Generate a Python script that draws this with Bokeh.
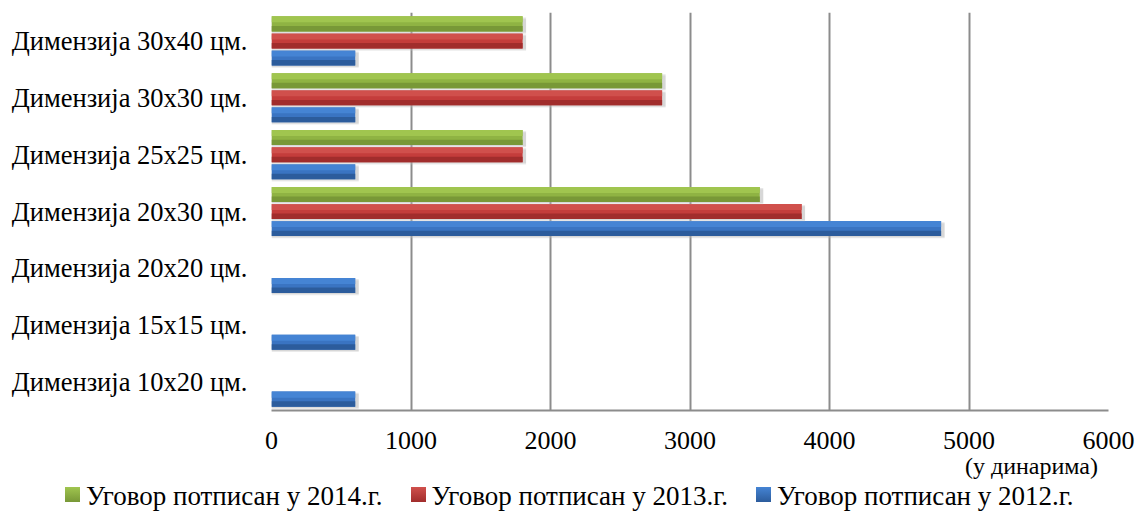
from bokeh.plotting import figure
from bokeh.layouts import column
from bokeh.models import Range1d, FactorRange, ColumnDataSource, Div, FixedTicker
from bokeh.transform import dodge
from bokeh.embed import file_html
from bokeh.resources import INLINE

categories = ["Димензија 10x20 цм.", "Димензија 15x15 цм.", "Димензија 20x20 цм.",
              "Димензија 20x30 цм.", "Димензија 25x25 цм.", "Димензија 30x30 цм.",
              "Димензија 30x40 цм."]
v2012 = [600, 600, 600, 4800, 600, 600, 600]
v2013 = [0, 0, 0, 3800, 1800, 2800, 1800]
v2014 = [0, 0, 0, 3500, 1800, 2800, 1800]
x_ticks = [0, 1000, 2000, 3000, 4000, 5000, 6000]
series_names = ["Уговор потписан у 2012.г.", "Уговор потписан у 2013.г.", "Уговор потписан у 2014.г."]
unit_text = "(у динарима)"

FONT = "Liberation Serif"
GRID = "#8c8c8c"
W = 1143
H_MAIN = 458
H_LEG = 54

p = figure(width=W, height=H_MAIN, y_range=FactorRange(*categories, range_padding=0),
           x_range=Range1d(0, 6000), output_backend="svg", toolbar_location=None,
           min_border_left=271, min_border_right=35, min_border_top=12, min_border_bottom=48)
p.outline_line_color = None
p.background_fill_color = "white"

series = [
    (v2012, -0.30, ("#4584d4", "#3a74c2", "#2c5c9c")),
    (v2013, 0.0, ("#d0504c", "#c43d3b", "#a12d2c")),
    (v2014, 0.30, ("#a0c54f", "#8fb343", "#789837")),
]
BAR_H = 0.264
for vals, off, (c_top, c_mid, c_bot) in series:
    src = ColumnDataSource(dict(cat=categories, val=vals,
                                sh=[v + 25 if v > 0 else 0 for v in vals]))
    p.hbar(y=dodge("cat", off - 0.04, range=p.y_range), right="sh", height=BAR_H, source=src,
           fill_color="#c4c4c4", fill_alpha=0.35, line_color=None)
    p.hbar(y=dodge("cat", off - 0.02, range=p.y_range), right="sh", height=BAR_H, source=src,
           fill_color="#a0a0a0", fill_alpha=0.25, line_color=None)
    p.hbar(y=dodge("cat", off, range=p.y_range), right="val", height=BAR_H, source=src,
           fill_color=c_mid, line_color=None)
    p.hbar(y=dodge("cat", off + BAR_H * 0.3, range=p.y_range), right="val", height=BAR_H * 0.4,
           source=src, fill_color=c_top, line_color=None)
    p.hbar(y=dodge("cat", off - BAR_H * 0.32, range=p.y_range), right="val", height=BAR_H * 0.36,
           source=src, fill_color=c_bot, line_color=None)

p.xaxis.ticker = FixedTicker(ticks=x_ticks)
p.xaxis.axis_line_color = GRID
p.xaxis.axis_line_width = 2
p.xaxis.major_tick_line_color = None
p.xaxis.minor_tick_line_color = None
p.xaxis.major_label_text_font = FONT
p.xaxis.major_label_text_font_size = "26px"
p.xaxis.major_label_text_color = "black"
p.xaxis.major_label_standoff = 15

p.yaxis.axis_line_color = None
p.yaxis.major_tick_line_color = None
p.yaxis.minor_tick_line_color = None
p.yaxis.major_label_text_font = FONT
p.yaxis.major_label_text_font_size = "26.5px"
p.yaxis.major_label_text_color = "black"
p.yaxis.major_label_standoff = 18

p.xgrid.grid_line_color = GRID
p.xgrid.grid_line_width = 2
p.ygrid.grid_line_color = None

# lower strip: unit note and legend (legend order: 2014, 2013, 2012)
legend_entries = [(series_names[2], series[2][2]), (series_names[1], series[1][2]),
                  (series_names[0], series[0][2])]
items_html = ""
for i, (name, (c_top, c_mid, c_bot)) in enumerate(legend_entries):
    ml = "0" if i == 0 else "28px"
    items_html += (
        f'<span style="display:inline-block;margin-left:{ml};white-space:nowrap;">'
        f'<span style="display:inline-block;width:15px;height:15px;vertical-align:middle;'
        f'margin-right:6px;background:linear-gradient({c_top},{c_bot});position:relative;top:-2px;"></span>'
        f'<span style="vertical-align:middle;">{name}</span></span>'
    )
html = (
    f'<div style="position:relative;width:{W}px;height:{H_LEG}px;font-family:\'{FONT}\';color:black;">'
    f'<div style="position:absolute;right:45px;top:-6px;font-size:24px;line-height:28px;white-space:nowrap;">{unit_text}</div>'
    f'<div style="position:absolute;left:65px;top:21px;font-size:27px;line-height:31px;white-space:nowrap;">{items_html}</div>'
    f'</div>'
)
legend_div = Div(text=html, width=W, height=H_LEG, margin=0)

layout = column(p, legend_div, spacing=0)
open("out.html", "w").write(file_html(layout, INLINE))
